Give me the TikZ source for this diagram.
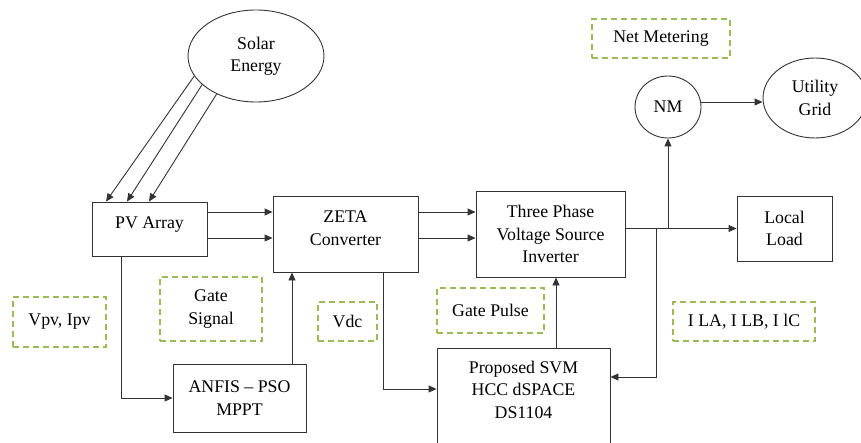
\documentclass[tikz,border=0pt]{standalone}
\usepackage{fontspec}
\setmainfont{Liberation Serif}
\usepackage{xcolor}
\usepackage{tikz}
\usetikzlibrary{shapes.geometric, arrows.meta, calc}
\definecolor{dline}{HTML}{333333}
\definecolor{taggreen}{HTML}{9BBB59}

\begin{document}
\begin{tikzpicture}[x=1pt, y=1pt, font=\fontsize{17.8}{22.5}\selectfont,
    box/.style={draw=dline, line width=0.9pt, inner sep=0pt, align=center},
    oval/.style={ellipse, draw=dline, line width=0.9pt, inner sep=0pt, align=center},
    tag/.style={draw=taggreen, line width=1.4pt, dash pattern=on 6pt off 4pt,
      inner sep=0pt, align=center},
    arr/.style={-{Triangle[length=8pt,width=7pt]}, draw=dline, line width=0.9pt}]
  \useasboundingbox (0,0) rectangle (861,442);
  % power path
  \node[oval, minimum width=136pt, minimum height=92pt] (solar) at (256,386) {Solar\\Energy};
  \node[box, minimum width=115pt, minimum height=54pt, text depth=12pt] (pv) at (149.5,213) {PV Array};
  \node[box, minimum width=145pt, minimum height=76pt] (zeta) at (345.5,208) {ZETA\\Converter\\[-10.5pt]\mbox{}};
  \node[box, minimum width=149pt, minimum height=86pt] (vsi) at (550.5,208) {Three Phase\\Voltage Source\\Inverter};
  \node[box, minimum width=95pt, minimum height=65pt] (load) at (784.5,213.5) {Local\\Load};
  \node[oval, minimum width=66pt, minimum height=62pt] (nm) at (668,335) {NM};
  \node[oval, minimum width=104pt, minimum height=80pt] (grid) at (815,344) {Utility\\Grid};
  % controllers
  \node[box, minimum width=133pt, minimum height=68pt] (anfis) at (239.5,44) {ANFIS – PSO\\MPPT};
  \node[box, minimum width=173pt, minimum height=98pt] (svm) at (523.5,45) {Proposed SVM\\HCC dSPACE\\DS1104\\[-7.5pt]\mbox{}};
  % signal tags
  \node[tag, minimum width=138pt, minimum height=39pt] (tnet) at (661,403.5) {Net Metering};
  \node[tag, minimum width=93pt, minimum height=50pt] (tpv) at (59.5,120) {Vpv, Ipv};
  \node[tag, minimum width=102pt, minimum height=64pt] (tgs) at (211,133) {Gate\\Signal};
  \node[tag, minimum width=59pt, minimum height=39pt] (tvdc) at (347.5,120.5) {Vdc};
  \node[tag, minimum width=107pt, minimum height=45pt] (tgp) at (490.5,131.5) {Gate Pulse};
  \node[tag, minimum width=142pt, minimum height=39pt] (tila) at (744,120.5) {I LA, I LB, I lC};
  \coordinate (tap) at (656,213.5);
  % connectors
  \draw[arr] (solar.198) -- ([xshift=-43.5pt]pv.north);
  \draw[arr] (solar.208) -- ([xshift=-22.5pt]pv.north);
  \draw[arr] (solar.224) -- ([xshift=-0.5pt]pv.north);
  \draw[arr] ([yshift=17pt]pv.east) -- ([yshift=17pt]pv.east -| zeta.west);
  \draw[arr] ([yshift=-9pt]pv.east) -- ([yshift=-9pt]pv.east -| zeta.west);
  \draw[arr] ([yshift=22pt]zeta.east) -- ([yshift=22pt]zeta.east -| vsi.west);
  \draw[arr] ([yshift=-4pt]zeta.east) -- ([yshift=-4pt]zeta.east -| vsi.west);
  \draw[arr] (vsi.east |- load.west) -- (load.west);
  \draw[arr] (nm.south |- load.west) -- (nm.south);
  \draw[arr] ([yshift=5pt]nm.east) -- ([yshift=5pt]nm.east -| grid.west);
  \draw[arr] (tap) |- ([yshift=20pt]svm.east);
  \draw[arr] ([xshift=37.5pt]zeta.south) |- ([yshift=8pt]svm.west);
  \draw[arr] ([xshift=32.5pt]svm.north) -- ([xshift=32.5pt]svm.north |- vsi.south);
  \draw[arr] ([xshift=-28.5pt]pv.south) |- (anfis.west);
  \draw[arr] ([xshift=52.5pt]anfis.north) -- ([xshift=52.5pt]anfis.north |- zeta.south);
\end{tikzpicture}
\end{document}
